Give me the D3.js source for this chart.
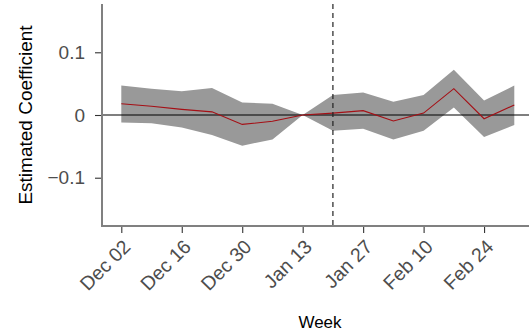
<!DOCTYPE html>
<html>
<head>
<meta charset="utf-8">
<script src="https://cdn.jsdelivr.net/npm/d3@7"></script>
<style>
  body { margin: 0; background: #fff; }
  svg { display: block; font-family: "Liberation Sans", Arial, sans-serif; }
</style>
</head>
<body>
<div class="chart"></div>
<script>
// weekly data
var weeks = ['2019-12-02','2019-12-09','2019-12-16','2019-12-23','2019-12-30','2020-01-06','2020-01-13',
             '2020-01-20','2020-01-27','2020-02-03','2020-02-10','2020-02-17','2020-02-24','2020-03-02'];
var estimate = [0.018, 0.014, 0.009, 0.005, -0.015, -0.010, 0, 0.003, 0.007, -0.0095, 0.003, 0.042, -0.006, 0.016];
var upper = [0.047, 0.042, 0.038, 0.043, 0.020, 0.018, 0, 0.032, 0.036, 0.021, 0.032, 0.072, 0.023, 0.047];
var lower = [-0.012, -0.013, -0.020, -0.032, -0.049, -0.039, 0, -0.025, -0.022, -0.039, -0.025, 0.012, -0.035, -0.016];
var tickDates = ['2019-12-02','2019-12-16','2019-12-30','2020-01-13','2020-01-27','2020-02-10','2020-02-24'];
var yTicks = [-0.1, 0, 0.1];
var eventWeek = '2020-01-20';

var parse = d3.utcParse('%Y-%m-%d');
var fmt = d3.utcFormat('%b %d');

var width = 529, height = 336;
var mLeft = 102, mRight = 534, mTop = 4, mBottom = 226;

var data = weeks.map(function(w, i) {
  return { date: parse(w), est: estimate[i], lo: lower[i], hi: upper[i] };
});

var x = d3.scaleUtc()
    .domain(d3.extent(data, function(d) { return d.date; }))
    .range([121.3, 514.3]);
var y = d3.scaleLinear()
    .domain([-0.177, 0.177])
    .range([mBottom, mTop]);

var svg = d3.select('.chart')
    .append('svg')
    .attr('width', width)
    .attr('height', height);

// confidence band
svg.append('path')
    .datum(data)
    .attr('fill', '#999999')
    .attr('d', d3.area()
        .x(function(d) { return x(d.date); })
        .y0(function(d) { return y(d.lo); })
        .y1(function(d) { return y(d.hi); }));

// zero line
svg.append('line')
    .attr('x1', mLeft).attr('x2', mRight)
    .attr('y1', y(0)).attr('y2', y(0))
    .attr('stroke', '#000').attr('stroke-width', 1.1);

// estimate line
svg.append('path')
    .datum(data)
    .attr('fill', 'none')
    .attr('stroke', '#a50f15')
    .attr('stroke-width', 1.1)
    .attr('d', d3.line()
        .x(function(d) { return x(d.date); })
        .y(function(d) { return y(d.est); }));

// event line
svg.append('line')
    .attr('x1', x(parse(eventWeek))).attr('x2', x(parse(eventWeek)))
    .attr('y1', mTop).attr('y2', mBottom)
    .attr('stroke', '#222').attr('stroke-width', 1.2)
    .attr('stroke-dasharray', '5,4');

// y axis
var yAxis = svg.append('g')
    .attr('transform', 'translate(' + mLeft + ',0)')
    .call(d3.axisLeft(y).tickValues(yTicks).tickSize(7).tickPadding(10)
        .tickFormat(function(d) { return d === 0 ? '0' : d3.format('.1f')(d).replace('-', '\u2212'); }));
yAxis.select('.domain').remove();
yAxis.selectAll('.tick line').attr('stroke', '#333').attr('stroke-width', 1.1);
yAxis.selectAll('.tick text').attr('fill', '#4d4d4d').style('font-size', '19px');

// x axis
var xAxis = svg.append('g')
    .attr('transform', 'translate(0,' + mBottom + ')')
    .call(d3.axisBottom(x).tickValues(tickDates.map(parse)).tickSize(7).tickFormat(fmt));
xAxis.select('.domain').remove();
xAxis.selectAll('.tick line').attr('stroke', '#333').attr('stroke-width', 1.1);
xAxis.selectAll('.tick text')
    .attr('fill', '#4d4d4d')
    .style('font-size', '19.5px')
    .attr('text-anchor', 'end')
    .attr('dy', null)
    .attr('y', 0)
    .attr('transform', 'translate(10,22) rotate(-45)');

// axis lines
svg.append('line')
    .attr('x1', mLeft).attr('x2', mLeft).attr('y1', mTop).attr('y2', mBottom)
    .attr('stroke', '#808080').attr('stroke-width', 2);
svg.append('line')
    .attr('x1', mLeft - 1).attr('x2', mRight).attr('y1', mBottom).attr('y2', mBottom)
    .attr('stroke', '#808080').attr('stroke-width', 2);

// titles
svg.append('text')
    .attr('x', 320).attr('y', 328)
    .attr('text-anchor', 'middle')
    .style('font-size', '17px')
    .text('Week');
svg.append('text')
    .attr('transform', 'translate(32,' + (mTop + mBottom) / 2 + ') rotate(-90)')
    .attr('text-anchor', 'middle')
    .style('font-size', '19px')
    .text('Estimated Coefficient');
</script>
</body>
</html>
